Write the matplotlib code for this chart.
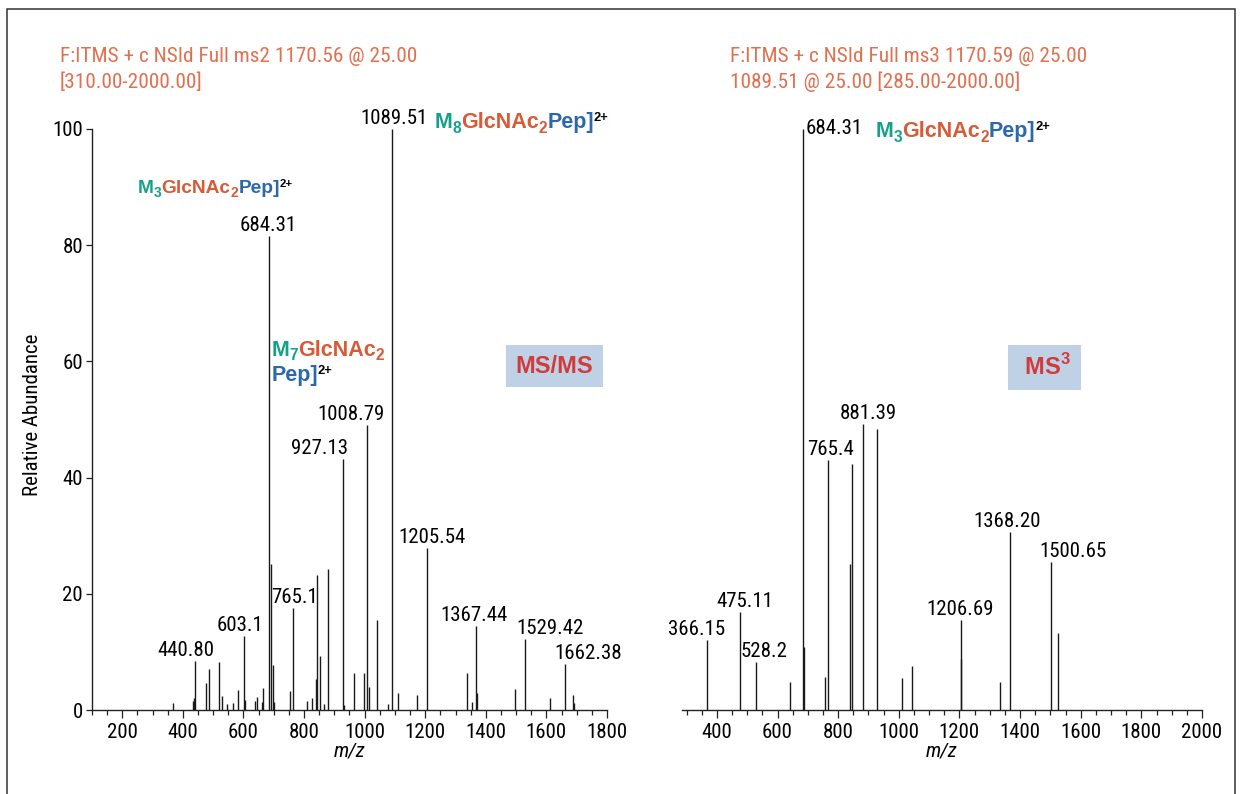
import matplotlib
matplotlib.use('Agg')
from matplotlib import pyplot as plt
from matplotlib import font_manager
from matplotlib.ticker import MultipleLocator
from matplotlib.transforms import IdentityTransform
from matplotlib.patches import Rectangle

W, H, DPI = 1243, 794, 100

installed = {f.name for f in font_manager.fontManager.ttflist}


def pick(cands):
    for c in cands:
        if c in installed:
            return [c, 'DejaVu Sans']
    return ['DejaVu Sans']


NARROW = pick(['Roboto Condensed', 'Archivo Narrow', 'PT Sans Narrow', 'IBM Plex Sans Condensed',
               'Fira Sans Condensed', 'Liberation Sans Narrow'])
BOLD = pick(['Liberation Sans', 'Arimo', 'Helvetica', 'Arial', 'Roboto'])
plt.rcParams['font.family'] = NARROW
plt.rcParams['mathtext.fontset'] = 'custom'
plt.rcParams['mathtext.bf'] = BOLD[0] + ':bold'
plt.rcParams['mathtext.rm'] = BOLD[0]

TEAL, ORANGE, BLUE = '#17a088', '#d85b37', '#2c69ab'
HEAD = '#e0704f'

# ---- MS/MS spectrum (left) ----
ms2_mz = [368, 432, 437, 440.80, 476, 487, 520, 528, 547, 565, 582, 603.1, 606, 639, 644,
          661, 663, 684.31, 690, 697, 701, 754, 765.1, 809, 826, 839, 843, 851, 867, 880,
          927.13, 931, 966, 999, 1008.79, 1013, 1041, 1078, 1089.51, 1109, 1174, 1205.54,
          1338, 1354, 1367.44, 1372, 1497, 1529.42, 1612, 1662.38, 1688, 1692]
ms2_int = [1.2, 1.5, 2.0, 8.4, 4.6, 7.0, 8.2, 2.4, 1.0, 1.2, 3.4, 12.7, 1.7, 1.5, 2.3,
           1.3, 3.8, 81.6, 25.2, 7.7, 1.3, 3.2, 17.5, 1.5, 2.0, 5.3, 23.3, 9.3, 1.0, 24.3,
           43.2, 0.9, 6.3, 6.4, 49.0, 4.0, 15.5, 1.0, 100.0, 3.0, 2.6, 27.8,
           6.4, 1.3, 14.5, 2.9, 3.6, 12.3, 2.0, 7.9, 2.6, 1.2]
ms2_labels = ['440.80', '603.1', '684.31', '765.1', '927.13', '1008.79', '1089.51',
              '1205.54', '1367.44', '1529.42', '1662.38']
ms2_label_int = [8.4, 12.7, 81.6, 17.5, 43.2, 49.0, 100.0, 27.8, 14.5, 12.3, 7.9]
ms2_label_dx = [-9, -4, -1, 1, -23, -16, 2, 5, -2, 25, 23]   # pixels

# ---- MS3 spectrum (right) ----
ms3_mz = [366.15, 475.11, 528.2, 642, 684.31, 688, 757, 765.4, 839, 846, 881.39, 928,
          1009, 1043, 1204, 1206.69, 1334, 1368.20, 1500.65, 1526]
ms3_int = [12.0, 16.8, 8.2, 4.8, 100.0, 10.8, 5.7, 43.1, 25.1, 42.3, 49.2, 48.3,
           5.5, 7.6, 8.8, 15.5, 4.9, 30.6, 25.5, 13.2]
ms3_labels = ['366.15', '475.11', '528.2', '765.4', '881.39', '1206.69', '1368.20', '1500.65']
ms3_label_int = [12.0, 16.8, 8.2, 43.1, 49.2, 15.5, 30.6, 25.5]
ms3_label_dx = [-10, 5, 8, 3, 5, -1, -3, 22]

FS = 15


def rich(ax, x, y, parts, size):
    """draw coloured pieces one after another, baseline at data (x, y)"""
    fig = ax.figure
    r = fig.canvas.get_renderer()
    px, py = ax.transData.transform((x, y))
    k = DPI / 72.
    for s, c, role in parts:
        fs, dy = size, 0
        if role == 'sub':
            fs, dy = size * 0.72, -0.22 * size * k
        elif role == 'sup':
            fs, dy = size * 0.6, 0.32 * size * k
        t = fig.text(px, py + dy, s, color=c, fontsize=fs, fontweight='bold',
                     family=BOLD, ha='left', va='baseline', transform=IdentityTransform())
        px += t.get_window_extent(r).width


def glyco(n, pep=True):
    p = [('M', TEAL, 'n'), (str(n), TEAL, 'sub'), ('GlcNAc', ORANGE, 'n'), ('2', ORANGE, 'sub')]
    if pep:
        p += [('Pep]', BLUE, 'n'), ('2+', 'black', 'sup')]
    return p


def style(ax, show_y):
    ax.set_ylim(0, 100)
    ax.xaxis.set_major_locator(MultipleLocator(200))
    ax.xaxis.set_minor_locator(MultipleLocator(50))
    ax.spines['top'].set_visible(False)
    ax.spines['right'].set_visible(False)
    for s in ['left', 'bottom']:
        ax.spines[s].set_color('#222222')
        ax.spines[s].set_linewidth(1.0)
    ax.tick_params(axis='x', which='major', length=6, width=0.9, pad=3, labelsize=FS, color='#222222')
    ax.tick_params(axis='x', which='minor', length=3.5, width=0.9, color='#222222')
    ax.tick_params(axis='y', length=4.5, width=0.9, pad=2, labelsize=FS, color='#222222')
    ax.set_xlabel('m/z', fontsize=FS, style='italic', labelpad=0)
    if show_y:
        ax.set_yticks(range(0, 101, 20))
        ax.set_ylabel('Relative Abundance', fontsize=FS, labelpad=7)
        ax.yaxis.label.set_y(0.508)
    else:
        ax.set_yticks([])
        ax.spines['left'].set_visible(False)


fig = plt.figure(figsize=(W / DPI, H / DPI), dpi=DPI)

ax1 = fig.add_axes([92 / W, 1 - 710 / H, 515 / W, 581 / H])
ax2 = fig.add_axes([682 / W, 1 - 710 / H, 520 / W, 581 / H])

ax1.vlines(ms2_mz, 0, ms2_int, color='#1a1a1a', lw=1.0)
ax1.set_xlim(100, 1800)
style(ax1, True)
for lab, yv, dx in zip(ms2_labels, ms2_label_int, ms2_label_dx):
    ax1.annotate(lab, (float(lab), yv), xytext=(dx, 5), textcoords='offset pixels',
                 ha='center', va='baseline', fontsize=FS, annotation_clip=False)

ax2.vlines(ms3_mz, 0, ms3_int, color='#1a1a1a', lw=1.0)
ax2.set_xlim(285, 2000)
style(ax2, False)
for lab, yv, dx in zip(ms3_labels, ms3_label_int, ms3_label_dx):
    ax2.annotate(lab, (float(lab), yv), xytext=(dx, 5), textcoords='offset pixels',
                 ha='center', va='baseline', fontsize=FS, annotation_clip=False)
ax2.annotate('684.31', (684.31, 100), xytext=(3, 0), textcoords='offset pixels',
             ha='left', va='center', fontsize=FS, annotation_clip=False)

# headers
HFS = 15.3
fig.text(60 / W, 1 - 62 / H, 'F:ITMS + c NSId Full ms2 1170.56 @ 25.00', color=HEAD, fontsize=HFS)
fig.text(60 / W, 1 - 88 / H, '[310.00-2000.00]', color=HEAD, fontsize=HFS)
fig.text(730 / W, 1 - 62 / H, 'F:ITMS + c NSId Full ms3 1170.59 @ 25.00', color=HEAD, fontsize=HFS)
fig.text(730 / W, 1 - 88 / H, '1089.51 @ 25.00 [285.00-2000.00]', color=HEAD, fontsize=HFS)

# glycopeptide annotations
rich(ax1, 252, 89.0, glyco(3), 13.8)
rich(ax1, 1230, 100.2, glyco(8), 15.5)
rich(ax1, 692, 61.0, glyco(7, pep=False), 15.5)
rich(ax1, 692, 56.6, [('Pep]', BLUE, 'n'), ('2+', 'black', 'sup')], 15.5)
rich(ax2, 925, 98.6, glyco(3), 15.5)

# MS level boxes
box = dict(boxstyle='square,pad=0.4', fc='#bfd1e5', ec='none')
ax1.text(1626, 59.2, 'MS/MS', color='#d13b3b', fontsize=17, fontweight='bold', family=BOLD,
         ha='center', va='center', bbox=box)
ax2.text(1482, 59.0, r' MS$^{\mathbf{3}}$ ', color='#d13b3b', fontsize=17, fontweight='bold',
         family=BOLD, ha='center', va='center', bbox=box)

# outer frame (open at the bottom)
fig.add_artist(Rectangle((7 / W, -0.05), (1235 - 7) / W, 1.05 - 9 / H, transform=fig.transFigure,
                         fill=False, lw=1.1, ec='#333333', clip_on=False))

fig.savefig('out.png', dpi=DPI)
